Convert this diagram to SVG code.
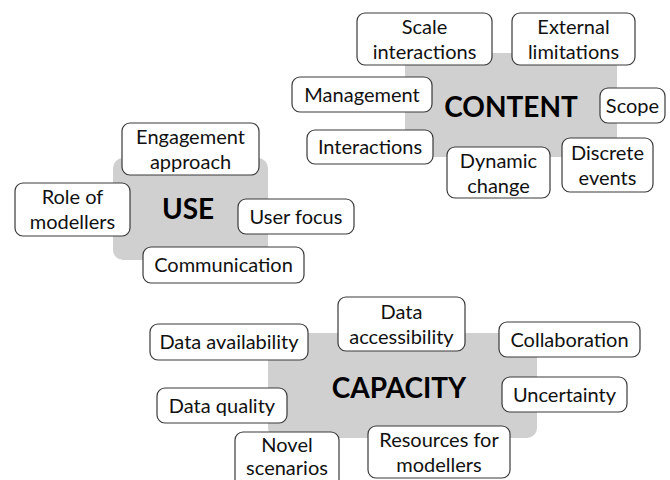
<svg xmlns="http://www.w3.org/2000/svg" width="670" height="480" viewBox="0 0 670 480">
<style>
.hub{fill:#d0d0d0;stroke:none}
.box{fill:#fff;stroke:#3a3a3a;stroke-width:1.2}
.t{font-family:Lato,"Open Sans","Liberation Sans",sans-serif;font-size:20px;fill:#111;text-anchor:middle}
.h{font-family:Lato,"Open Sans","Liberation Sans",sans-serif;font-size:28px;font-weight:bold;fill:#000;text-anchor:middle}
</style>
<rect width="670" height="480" fill="#fff"/>
<g id="hub-content"><rect class="hub" x="405" y="53" width="212" height="104" rx="10"/><text class="h" x="511" y="117">CONTENT</text></g>
<g id="hub-use"><rect class="hub" x="113" y="158" width="155" height="102" rx="10"/><text class="h" x="188" y="219">USE</text></g>
<g id="hub-capacity"><rect class="hub" x="268" y="333" width="269" height="105" rx="10"/><text class="h" x="399" y="398">CAPACITY</text></g>

<g id="scale-interactions"><rect class="box" x="357" y="13" width="135" height="52" rx="8"/><text class="t" x="424.5" y="34">Scale</text><text class="t" x="424.5" y="59">interactions</text></g>
<g id="external-limitations"><rect class="box" x="512" y="13" width="123" height="52" rx="8"/><text class="t" x="573.5" y="34">External</text><text class="t" x="573.5" y="59">limitations</text></g>
<g id="management"><rect class="box" x="292" y="77" width="140" height="35" rx="8"/><text class="t" x="362" y="102">Management</text></g>
<g id="scope"><rect class="box" x="600" y="88" width="65" height="35" rx="8"/><text class="t" x="632.5" y="113">Scope</text></g>
<g id="interactions"><rect class="box" x="307" y="130" width="126" height="34" rx="8"/><text class="t" x="370" y="154">Interactions</text></g>
<g id="dynamic-change"><rect class="box" x="447" y="147" width="103" height="51" rx="8"/><text class="t" x="498.5" y="168">Dynamic</text><text class="t" x="498.5" y="193">change</text></g>
<g id="discrete-events"><rect class="box" x="562" y="138" width="91" height="54" rx="8"/><text class="t" x="607.5" y="160">Discrete</text><text class="t" x="607.5" y="185">events</text></g>

<g id="engagement-approach"><rect class="box" x="122" y="123" width="137" height="52" rx="8"/><text class="t" x="190.5" y="144">Engagement</text><text class="t" x="190.5" y="169">approach</text></g>
<g id="role-of-modellers"><rect class="box" x="15" y="183" width="115" height="53" rx="8"/><text class="t" x="72.5" y="204">Role of</text><text class="t" x="72.5" y="229">modellers</text></g>
<g id="user-focus"><rect class="box" x="238" y="199" width="116" height="35" rx="8"/><text class="t" x="296" y="224">User focus</text></g>
<g id="communication"><rect class="box" x="143" y="247" width="161" height="36" rx="8"/><text class="t" x="223.5" y="272">Communication</text></g>

<g id="data-availability"><rect class="box" x="150" y="324" width="158" height="36" rx="8"/><text class="t" x="229" y="349">Data availability</text></g>
<g id="data-accessibility"><rect class="box" x="338" y="297" width="127" height="54" rx="8"/><text class="t" x="401.5" y="319">Data</text><text class="t" x="401.5" y="344">accessibility</text></g>
<g id="collaboration"><rect class="box" x="499" y="322" width="141" height="35" rx="8"/><text class="t" x="569.5" y="347">Collaboration</text></g>
<g id="data-quality"><rect class="box" x="157" y="388" width="130" height="35" rx="8"/><text class="t" x="222" y="413">Data quality</text></g>
<g id="uncertainty"><rect class="box" x="502" y="377" width="125" height="35" rx="8"/><text class="t" x="564.5" y="402">Uncertainty</text></g>
<g id="novel-scenarios"><rect class="box" x="235" y="432" width="104" height="56" rx="8"/><text class="t" x="287" y="452">Novel</text><text class="t" x="287" y="475">scenarios</text></g>
<g id="resources-for-modellers"><rect class="box" x="368" y="426" width="142" height="52" rx="8"/><text class="t" x="439" y="447">Resources for</text><text class="t" x="439" y="472">modellers</text></g>
</svg>
